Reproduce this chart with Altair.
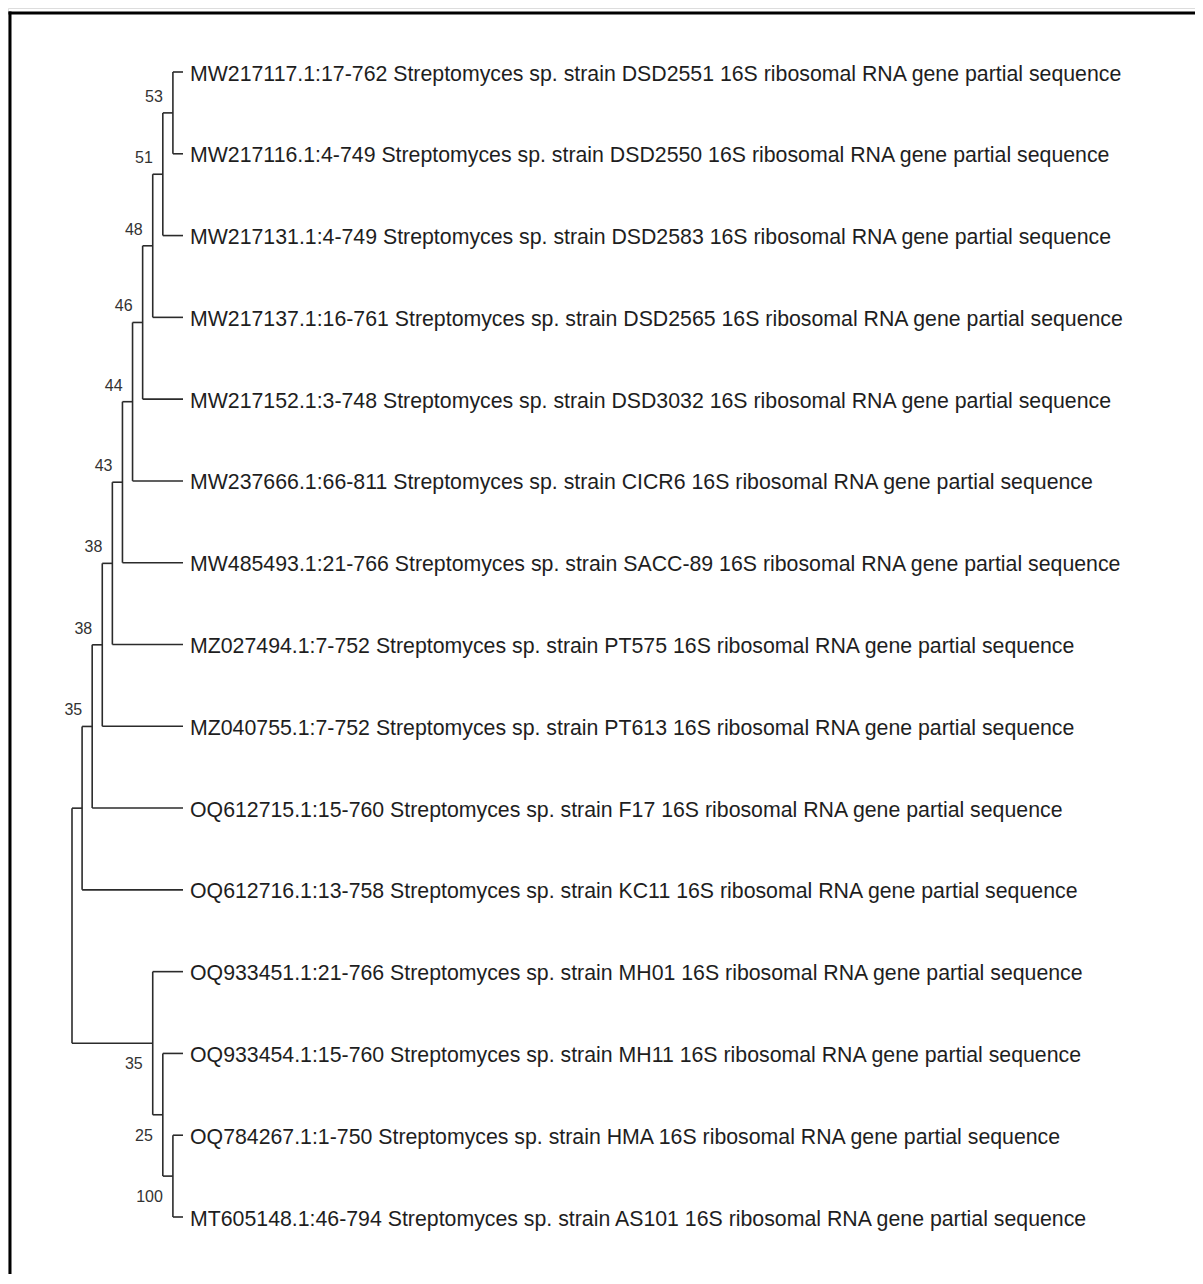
import altair as alt
import pandas as pd

# ---- data -------------------------------------------------------------
leaf_labels = [
    "MW217117.1:17-762 Streptomyces sp. strain DSD2551 16S ribosomal RNA gene partial sequence",
    "MW217116.1:4-749 Streptomyces sp. strain DSD2550 16S ribosomal RNA gene partial sequence",
    "MW217131.1:4-749 Streptomyces sp. strain DSD2583 16S ribosomal RNA gene partial sequence",
    "MW217137.1:16-761 Streptomyces sp. strain DSD2565 16S ribosomal RNA gene partial sequence",
    "MW217152.1:3-748 Streptomyces sp. strain DSD3032 16S ribosomal RNA gene partial sequence",
    "MW237666.1:66-811 Streptomyces sp. strain CICR6 16S ribosomal RNA gene partial sequence",
    "MW485493.1:21-766 Streptomyces sp. strain SACC-89 16S ribosomal RNA gene partial sequence",
    "MZ027494.1:7-752 Streptomyces sp. strain PT575 16S ribosomal RNA gene partial sequence",
    "MZ040755.1:7-752 Streptomyces sp. strain PT613 16S ribosomal RNA gene partial sequence",
    "OQ612715.1:15-760 Streptomyces sp. strain F17 16S ribosomal RNA gene partial sequence",
    "OQ612716.1:13-758 Streptomyces sp. strain KC11 16S ribosomal RNA gene partial sequence",
    "OQ933451.1:21-766 Streptomyces sp. strain MH01 16S ribosomal RNA gene partial sequence",
    "OQ933454.1:15-760 Streptomyces sp. strain MH11 16S ribosomal RNA gene partial sequence",
    "OQ784267.1:1-750 Streptomyces sp. strain HMA 16S ribosomal RNA gene partial sequence",
    "MT605148.1:46-794 Streptomyces sp. strain AS101 16S ribosomal RNA gene partial sequence",
]
leaf_depth = 11

# internal nodes: name, children (leaf index or node name), depth, bootstrap
node_names = ["A", "B", "C", "D", "E", "F", "G", "H", "I", "J", "M", "L", "K", "root"]
node_children = [
    [0, 1], ["A", 2], ["B", 3], ["C", 4], ["D", 5], ["E", 6], ["F", 7],
    ["G", 8], ["H", 9], ["I", 10], [13, 14], [12, "M"], [11, "L"], ["J", "K"],
]
node_depths = [10, 9, 8, 7, 6, 5, 4, 3, 2, 1, 10, 9, 8, 0]
node_support = ["53", "51", "48", "46", "44", "43", "38", "38", "35", "", "100", "25", "35", ""]
label_side = ["above"] * 10 + ["below"] * 3 + [""]

# ---- build geometry from tree ----------------------------------------
pos = {}
for i in range(len(leaf_labels)):
    pos[i] = (leaf_depth, float(i))
for name, ch, d in zip(node_names, node_children, node_depths):
    ys = [pos[c][1] for c in ch]
    pos[name] = (d, (min(ys) + max(ys)) / 2)

segs = []
for name, ch, d in zip(node_names, node_children, node_depths):
    ys = [pos[c][1] for c in ch]
    segs.append(dict(x=d, x2=d, y=min(ys), y2=max(ys)))
    for c in ch:
        cx, cy = pos[c]
        segs.append(dict(x=d, x2=cx, y=cy, y2=cy))
seg_df = pd.DataFrame(segs)

leaf_df = pd.DataFrame(dict(x=[leaf_depth] * len(leaf_labels),
                            y=list(range(len(leaf_labels))),
                            label=leaf_labels))

boot_df = pd.DataFrame([
    dict(x=pos[n][0], y=pos[n][1], label=s, side=sd)
    for n, s, sd in zip(node_names, node_support, label_side) if s
])

# ---- scales -----------------------------------------------------------
xs = alt.Scale(domain=[0, 11], range=[64, 175])
ys = alt.Scale(domain=[0, 14], range=[64, 1209])
X = lambda f: alt.X(f, type="quantitative", scale=xs, axis=None)
Y = lambda f: alt.Y(f, type="quantitative", scale=ys, axis=None)

line_col = "#2b2b2b"
text_col = "#1e1e1e"

branches = alt.Chart(seg_df).mark_rule(color=line_col, strokeWidth=1.6).encode(
    x=X("x"), x2="x2", y=Y("y"), y2="y2")

leaves = alt.Chart(leaf_df).mark_text(
    align="left", baseline="alphabetic", dx=7, dy=8.5,
    font="Liberation Sans", fontSize=21.3, color=text_col).encode(
    x=X("x"), y=Y("y"), text="label")

boot_above = alt.Chart(boot_df).transform_filter("datum.side == 'above'").mark_text(
    align="right", baseline="alphabetic", dx=-10, dy=-11,
    font="Liberation Sans", fontSize=16, color="#333333").encode(
    x=X("x"), y=Y("y"), text="label")

boot_below = alt.Chart(boot_df).transform_filter("datum.side == 'below'").mark_text(
    align="right", baseline="alphabetic", dx=-10, dy=26,
    font="Liberation Sans", fontSize=16, color="#333333").encode(
    x=X("x"), y=Y("y"), text="label")

border_top = alt.Chart(pd.DataFrame({"a": [0]})).mark_rect(
    color="black").encode(
    x=alt.value(0.5), x2=alt.value(1187), y=alt.value(3.5), y2=alt.value(6.5))
border_left = alt.Chart(pd.DataFrame({"a": [0]})).mark_rect(
    color="black").encode(
    x=alt.value(0.5), x2=alt.value(3.5), y=alt.value(3.5), y2=alt.value(1268))

chart = alt.layer(border_top, border_left, branches, leaves, boot_above, boot_below).properties(
    width=1187, height=1266, padding=0,
    autosize=alt.AutoSizeParams(type="none"),
).configure_view(stroke="transparent", strokeWidth=0, clip=False).configure(background="white")

chart.save("out.html", embed_options={"renderer": "svg", "actions": False})
